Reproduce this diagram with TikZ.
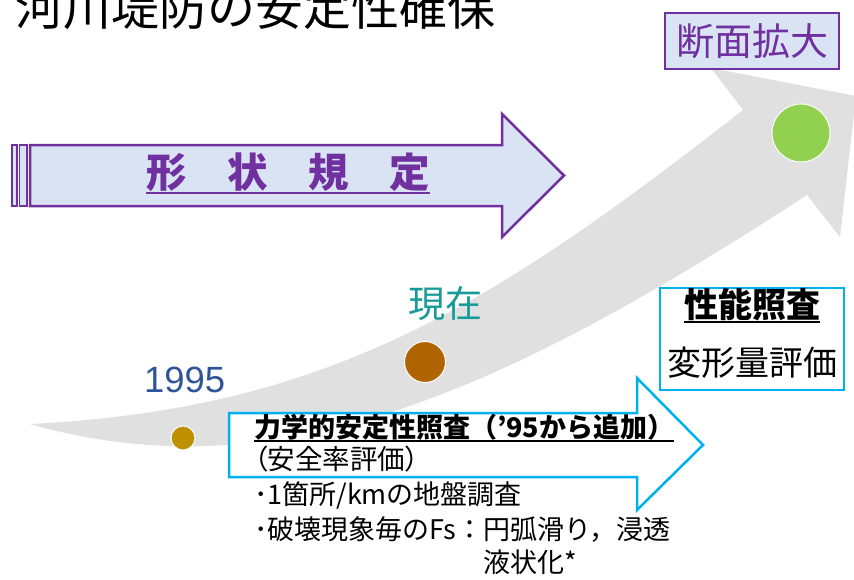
\documentclass[tikz,border=0pt]{standalone}
\usepackage{fontspec}
\setmainfont{Liberation Sans}
\newfontfamily\jp{Noto Sans CJK JP}
\newfontfamily\jpp{Noto Sans CJK JP}[RawFeature=+palt]
\definecolor{purp}{HTML}{7030A0}
\definecolor{lav}{HTML}{DAE3F3}
\definecolor{cyanb}{HTML}{00B0F0}
\definecolor{bandgray}{HTML}{E0E0E0}
\definecolor{yearblue}{HTML}{2F5597}
\definecolor{tealc}{HTML}{169B98}
\definecolor{goldc}{HTML}{BF9000}
\definecolor{brownc}{HTML}{B06400}
\definecolor{greenc}{HTML}{92D050}
\tikzset{
  txt/.style={inner sep=0pt, outer sep=0pt},
  dot/.style={circle, draw=white, line width=1pt, inner sep=0pt},
  uline/.style={line width=2.2pt},
}
\begin{document}
\begin{tikzpicture}[x=1pt,y=-1pt]
\useasboundingbox (0,0) rectangle (854,579);
\clip (0,0) rectangle (854,579);
% big gray curved arrow
\fill[bandgray] (30,424) .. controls (330,409) and (493,305) .. (743,110)
  -- (711,68) -- (856,96) -- (840,237) -- (807,195)
  .. controls (507,390) and (280,495) .. (30,424) -- cycle;
% title
\node[txt, anchor=base west] (title) at (16,25) {\jp\fontsize{48pt}{48pt}\selectfont 河川堤防の安定性確保};
% purple arrow
\draw[purp, line width=2.5pt, fill=lav, line join=miter]
  (30,145) -- (502,145) -- (502,114) -- (564,175.5) -- (502,237) -- (502,206) -- (30,206) -- cycle;
\draw[purp, line width=1.5pt, fill=lav] (12,145) rectangle (17,206);
\draw[purp, line width=1.5pt, fill=lav] (19.5,145) rectangle (27,206);
\node[txt, anchor=base west, text=purp] (shape) at (146,187) {\jp\bfseries\fontsize{40.5pt}{40.5pt}\selectfont 形　状　規　定};
\draw[purp, uline] ([yshift=-6pt]shape.base west) -- ([yshift=-6pt]shape.base east);
% top-right box
\node[draw=purp, line width=2.5pt, fill=lav, minimum width=174pt, minimum height=56pt, inner sep=0pt, text=purp] (enl) at (752,41) {\jp\fontsize{38pt}{38pt}\selectfont 断面拡大};
% circles
\node[dot, fill=greenc, minimum size=58pt] (cg) at (801,133) {};
\node[dot, fill=brownc, minimum size=41pt] (cb) at (425,362) {};
\node[dot, fill=goldc, minimum size=24pt] (cy) at (183,438) {};
% labels
\node[txt, anchor=base west, text=yearblue] (y1995) at (144,392) {\fontsize{36.5pt}{36.5pt}\selectfont 1995};
\node[txt, anchor=base west, text=tealc] (now) at (408,317) {\jp\fontsize{37pt}{37pt}\selectfont 現在};
% blue arrow
\draw[cyanb, line width=2.5pt, fill=white, line join=miter]
  (229,413) -- (637,413) -- (637,378) -- (703,445) -- (637,510) -- (637,477) -- (229,477) -- cycle;
\node[txt, anchor=base west] (l1) at (254,437) {\jp\bfseries\fontsize{27pt}{27pt}\selectfont 力学的安定性照査（’95から追加）};
\draw[uline, line width=2pt] ([yshift=-4pt]l1.base west) -- ([yshift=-4pt]l1.base east);
\node[txt, anchor=base west] (l2) at (254,469) {\jpp\fontsize{27.5pt}{27.5pt}\selectfont （安全率評価）};
\node[txt, anchor=base west] (l3) at (254,504) {\jp\fontsize{27pt}{27pt}\selectfont ･1箇所/kmの地盤調査};
\node[txt, anchor=base west] (l4) at (254,539) {\jp\fontsize{27pt}{27pt}\selectfont ･破壊現象毎のFs：円弧滑り，浸透};
\node[txt, anchor=base west] (l5) at (483,572) {\jp\fontsize{27pt}{27pt}\selectfont 液状化*};
% right box
\node[draw=cyanb, line width=2.5pt, fill=white, minimum width=184pt, minimum height=102pt, inner sep=0pt] (perf) at (752,339) {};
\node[txt, anchor=base] (p1) at (752,317) {\jp\bfseries\fontsize{34pt}{34pt}\selectfont 性能照査};
\draw[uline, line width=2.2pt] ([yshift=-5pt]p1.base west) -- ([yshift=-5pt]p1.base east);
\node[txt, anchor=base] (p2) at (752,375) {\jp\fontsize{34pt}{34pt}\selectfont 変形量評価};
\end{tikzpicture}
\end{document}
